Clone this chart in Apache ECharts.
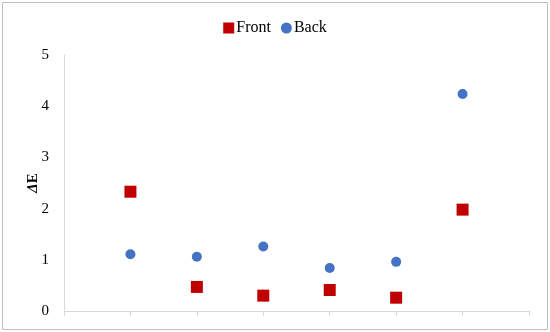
<!DOCTYPE html>
<html>
<head>
<meta charset="utf-8">
<script src="https://cdn.jsdelivr.net/npm/echarts@6/dist/echarts.min.js"></script>
<style>
  html, body { margin: 0; padding: 0; background: #fff; }
  #chart { width: 550px; height: 332px; }
</style>
</head>
<body>
<div id="chart"></div>
<script>
// 数据
var positions = [1, 2, 3, 4, 5, 6];
var frontValues = [2.33, 0.47, 0.30, 0.41, 0.26, 1.98];
var backValues = [1.11, 1.06, 1.26, 0.84, 0.96, 4.24];
var yTicks = [0, 1, 2, 3, 4, 5];

function pairs(vals) {
    return vals.map(function (v, i) { return [positions[i], v]; });
}

var myChart = echarts.init(document.getElementById('chart'));

var font = '"Liberation Serif", "Times New Roman", serif';

var option = {
    backgroundColor: '#fff',
    animation: false,
    textStyle: { fontFamily: font },
    graphic: [{
        type: 'rect',
        shape: { x: 2.5, y: 2.5, width: 545, height: 327 },
        style: { fill: 'none', stroke: '#bfbfbf', lineWidth: 1 },
        silent: true
    }],
    legend: {
        top: 15,
        left: 'center',
        itemGap: 10,
        itemWidth: 11,
        itemHeight: 11,
        textStyle: { fontFamily: font, fontSize: 16, color: '#000', padding: [0, 0, 0, -3] },
        data: [
            { name: 'Front', icon: 'rect' },
            { name: 'Back', icon: 'circle' }
        ]
    },
    grid: { left: 64, right: 21, top: 55, bottom: 21, containLabel: false },
    xAxis: {
        type: 'value',
        min: 0,
        max: 7,
        interval: 1,
        axisLine: { show: true, lineStyle: { color: '#d9d9d9', width: 1 } },
        axisTick: { show: true, length: 5, lineStyle: { color: '#d9d9d9' } },
        axisLabel: { show: false },
        splitLine: { show: false }
    },
    yAxis: {
        type: 'value',
        min: 0,
        max: 5,
        interval: 1,
        name: '{d|Δ}E',
        nameLocation: 'middle',
        nameGap: 23,
        nameMoveOverlap: false,
        nameRotate: 90,
        nameTextStyle: {
            fontFamily: font, fontSize: 15, fontWeight: 'bold', color: '#000',
            rich: { d: { fontFamily: font, fontSize: 15, fontWeight: 'bold', fontStyle: 'italic', color: '#000' } }
        },
        axisLine: { show: true, lineStyle: { color: '#d9d9d9', width: 1 } },
        axisTick: { show: false },
        axisLabel: {
            margin: 15,
            fontFamily: font, fontSize: 15, color: '#000',
            formatter: function (v) { return yTicks.indexOf(v) >= 0 ? String(v) : ''; }
        },
        splitLine: { show: false }
    },
    series: [{
        name: 'Front',
        type: 'scatter',
        symbol: 'rect',
        symbolSize: 12,
        itemStyle: { color: '#C00000', opacity: 1 },
        data: pairs(frontValues)
    }, {
        name: 'Back',
        type: 'scatter',
        symbol: 'circle',
        symbolSize: 10,
        itemStyle: { color: '#4472C4', opacity: 1 },
        data: pairs(backValues)
    }]
};

myChart.setOption(option);
</script>
</body>
</html>
